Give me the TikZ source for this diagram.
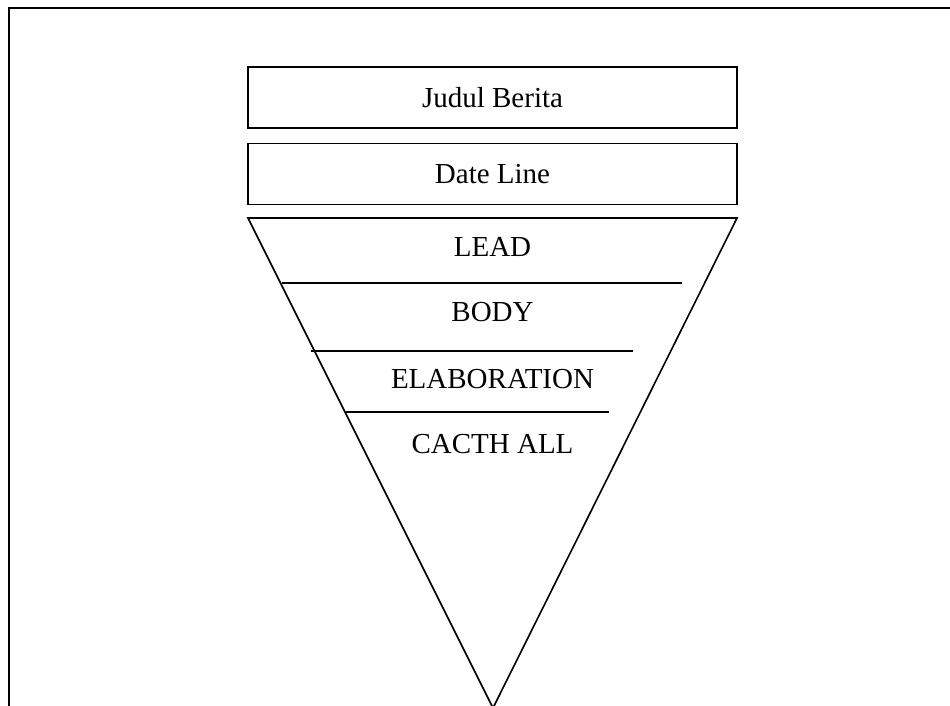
\documentclass[tikz,border=0pt]{standalone}
\usepackage{fontspec}
\setmainfont{Liberation Serif}
\tikzset{
	kotak/.style={draw, line width=1.6pt, minimum width=489pt, minimum height=61pt, inner sep=0pt},
	label/.style={font=\fontsize{29}{32}\selectfont, inner sep=0pt}
}
\begin{document}
\begin{tikzpicture}[x=1pt, y=-1pt, line width=1.6pt]
		\useasboundingbox (0, 0) rectangle (950, 706);
		\draw[line width=2.2pt] (9, 706) -- (9, 8) -- (950, 8);

		\node[kotak, label] (judul) at (492.5, 97.5) {Judul Berita};
		\node[kotak, label] (dateline) at (492.5, 174) {Date Line};

		\draw (248, 218) -- (737, 218) -- (493, 708) -- cycle;
		\draw (282, 283) -- (682, 283);
		\draw (311, 351) -- (633, 351);
		\draw (346, 412) -- (609, 412);

		\node[label] (lead) at (492.5, 247) {LEAD};
		\node[label] (body) at (492.5, 312) {BODY};
		\node[label] (elab) at (492.5, 379) {ELABORATION};
		\node[label] (catch) at (492.5, 444) {CACTH ALL};
	\end{tikzpicture}
\end{document}
